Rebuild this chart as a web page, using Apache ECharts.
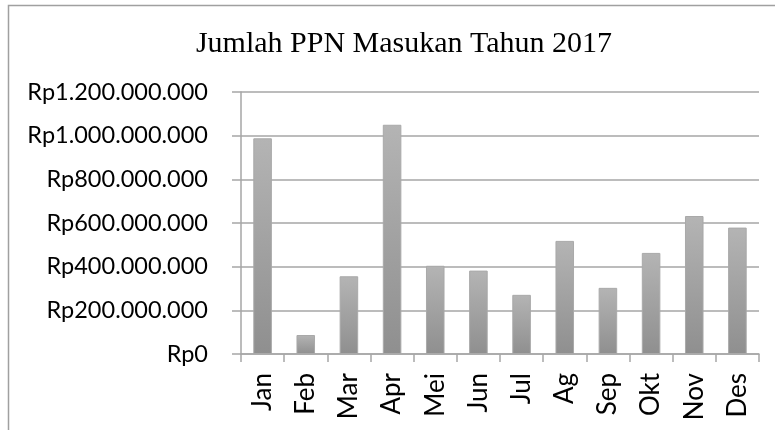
<!DOCTYPE html>
<html>
<head>
<meta charset="utf-8">
<script src="https://cdn.jsdelivr.net/npm/echarts@6/dist/echarts.min.js"></script>
<style>html,body{margin:0;padding:0;background:#fff}#c{width:775px;height:430px}</style>
</head>
<body>
<div id="c"></div>
<script>
const chartTitle = 'Jumlah PPN Masukan Tahun 2017';
const months = ['Jan','Feb','Mar','Apr','Mei','Jun','Jul','Ag','Sep','Okt','Nov','Des'];
const ppnMasukan = [988000000, 87000000, 356000000, 1050000000, 404000000, 382000000, 271000000, 518000000, 303000000, 463000000, 632000000, 579000000];
const yTickLabels = ['Rp0','Rp200.000.000','Rp400.000.000','Rp600.000.000','Rp800.000.000','Rp1.000.000.000','Rp1.200.000.000'];
const yStep = 200000000;

const chart = echarts.init(document.getElementById('c'), null, {renderer:'canvas'});
const gridColor = '#a6a6a6';
chart.setOption({
  animation: false,
  backgroundColor: '#fff',
  title: {
    text: chartTitle,
    left: 399, top: 24, textAlign: 'center',
    textStyle: {fontFamily: 'Liberation Serif', fontSize: 30, fontWeight: 'normal', color: '#000'}
  },
  graphic: [
    {type:'polyline', shape:{points:[[8.5,440],[8.5,5.5],[800,5.5]]}, style:{stroke:'#a0a0a0', lineWidth:1.5, fill:null}, silent:true}
  ],
  grid: {left: 241, right: 16, top: 92, bottom: 76},
  xAxis: {
    type: 'category', data: months,
    axisLine: {lineStyle: {color: gridColor, width: 1.5}},
    axisTick: {show: true, length: 8, alignWithLabel: false, lineStyle: {color: gridColor, width: 1.5}},
    axisLabel: {rotate: 90, margin: 19, color: '#000', fontFamily: 'Lato', fontSize: 26}
  },
  yAxis: {
    type: 'value', min: 0, max: 1200000000, interval: yStep,
    axisLine: {show: true, lineStyle: {color: gridColor, width: 1.5}},
    axisTick: {show: true, length: 9, lineStyle: {color: gridColor, width: 1.5}},
    splitLine: {lineStyle: {color: gridColor, width: 1.5}},
    axisLabel: {
      margin: 33, color: '#000', fontFamily: 'Lato', fontSize: 23.5,
      formatter: v => yTickLabels[Math.round(v / yStep)]
    }
  },
  series: [{
    type: 'bar', data: ppnMasukan, barWidth: '43%',
    itemStyle: {
      color: new echarts.graphic.LinearGradient(0,0,0,1,[{offset:0,color:'#b4b4b4'},{offset:1,color:'#8f8f8f'}]),
      borderColor: '#a9a9a9', borderWidth: 1
    }
  }]
});
</script>
</body>
</html>
